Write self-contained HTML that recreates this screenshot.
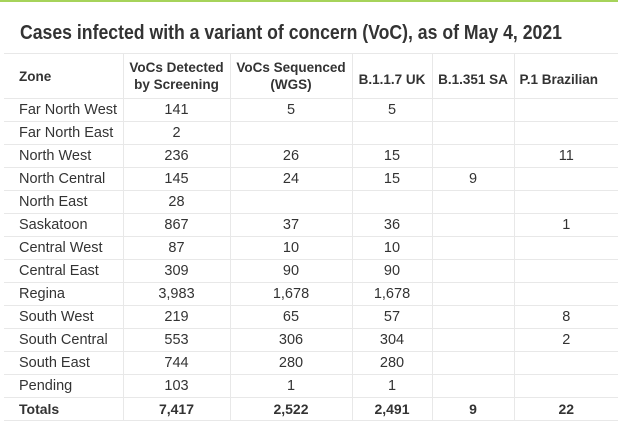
<!DOCTYPE html>
<html><head><meta charset="utf-8"><style>
body{margin:0;width:624px;height:434px;background:#fff;position:relative;overflow:hidden;font-family:"Liberation Sans",sans-serif;color:#333}
.top{position:absolute;left:0;top:0;width:618px;height:2px;background:#a6d35a}
svg.t{position:absolute;left:0;top:0}
table{position:absolute;left:4px;top:53px;border-collapse:collapse;table-layout:fixed;width:614px;font-size:14.5px}
td,th{border:1px solid #e8e8e8;padding:0;height:22px;line-height:22px;text-align:center;white-space:nowrap;overflow:hidden}
th{font-weight:bold;height:44px;font-size:13.5px;line-height:17px}
th span{position:relative;top:3px}
tr>*:first-child{text-align:left;padding-left:15px;border-left:none}
tr>*:last-child{border-right:none}
.b td{font-weight:bold;font-size:14px}
</style></head><body>
<div class="top"></div>
<svg class="t" width="624" height="50"><text x="20" y="39" font-family="Liberation Sans, sans-serif" font-size="20" font-weight="bold" fill="#333" textLength="542" lengthAdjust="spacingAndGlyphs">Cases infected with a variant of concern (VoC), as of May 4, 2021</text></svg>
<table>
<colgroup><col style="width:119px"><col style="width:107px"><col style="width:122px"><col style="width:80px"><col style="width:82px"><col style="width:104px"></colgroup>
<tr><th>Zone</th><th>VoCs Detected<br>by Screening</th><th>VoCs Sequenced<br>(WGS)</th><th><span>B.1.1.7 UK</span></th><th><span>B.1.351 SA</span></th><th style="text-align:left;padding-left:5px"><span>P.1 Brazilian</span></th></tr>
<tr><td>Far North West</td><td>141</td><td>5</td><td>5</td><td></td><td></td></tr>
<tr><td>Far North East</td><td>2</td><td></td><td></td><td></td><td></td></tr>
<tr><td>North West</td><td>236</td><td>26</td><td>15</td><td></td><td>11</td></tr>
<tr><td>North Central</td><td>145</td><td>24</td><td>15</td><td>9</td><td></td></tr>
<tr><td>North East</td><td>28</td><td></td><td></td><td></td><td></td></tr>
<tr><td>Saskatoon</td><td>867</td><td>37</td><td>36</td><td></td><td>1</td></tr>
<tr><td>Central West</td><td>87</td><td>10</td><td>10</td><td></td><td></td></tr>
<tr><td>Central East</td><td>309</td><td>90</td><td>90</td><td></td><td></td></tr>
<tr><td>Regina</td><td>3,983</td><td>1,678</td><td>1,678</td><td></td><td></td></tr>
<tr><td>South West</td><td>219</td><td>65</td><td>57</td><td></td><td>8</td></tr>
<tr><td>South Central</td><td>553</td><td>306</td><td>304</td><td></td><td>2</td></tr>
<tr><td>South East</td><td>744</td><td>280</td><td>280</td><td></td><td></td></tr>
<tr><td>Pending</td><td>103</td><td>1</td><td>1</td><td></td><td></td></tr>
<tr class="b"><td>Totals</td><td>7,417</td><td>2,522</td><td>2,491</td><td>9</td><td>22</td></tr>
</table>
</body></html>
